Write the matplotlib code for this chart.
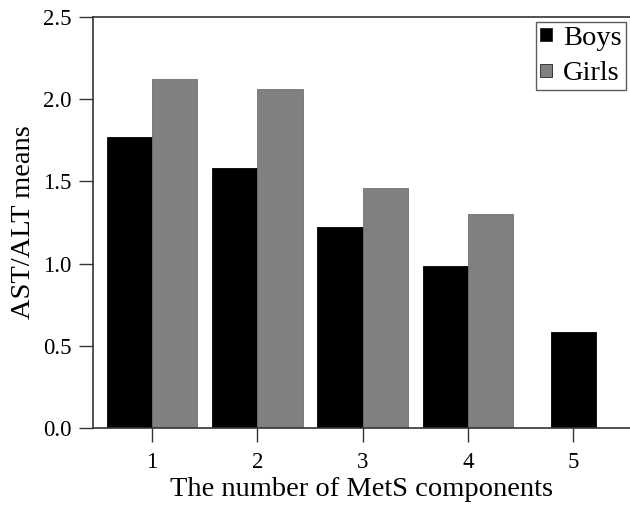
import matplotlib
matplotlib.use("Agg")
import matplotlib.pyplot as plt
import numpy as np

components = [1, 2, 3, 4, 5]
boys = [1.77, 1.58, 1.22, 0.985, 0.586]
girls = [2.12, 2.06, 1.46, 1.30, None]

plt.rcParams['font.family'] = ['Liberation Serif', 'DejaVu Serif']

fig = plt.figure(figsize=(6.3, 5.08), dpi=100)
ax = fig.add_axes([92.7/630, 1 - 428/508, (630 - 92.7)/630, (428 - 17)/508])

w = 0.43
for i, c in enumerate(components):
    if girls[i] is None:
        ax.bar(c, boys[i], width=w, color='black', edgecolor='black', linewidth=0.6,
               label='Boys' if i == 0 else None)
    else:
        ax.bar(c - w/2, boys[i], width=w, color='black', edgecolor='black', linewidth=0.6,
               label='Boys' if i == 0 else None)
        ax.bar(c + w/2, girls[i], width=w, color='#808080', edgecolor='#707070', linewidth=0.6,
               label='Girls' if i == 0 else None)

ax.set_xlim(0.437, 5.54)
ax.set_ylim(0, 2.5)
ax.set_xticks(components)
ax.set_yticks([0.0, 0.5, 1.0, 1.5, 2.0, 2.5])
ax.set_yticklabels(['0.0', '0.5', '1.0', '1.5', '2.0', '2.5'])
ax.tick_params(axis='both', direction='out', length=10, width=1, color='#333333',
               labelsize=16.5)
ax.tick_params(axis='y', pad=5)
ax.tick_params(axis='x', pad=7)
for s in ['left', 'top', 'bottom']:
    ax.spines[s].set_color('#333333')
    ax.spines[s].set_linewidth(1.2)
ax.spines['right'].set_visible(False)

ax.set_xlabel('The number of MetS components', fontsize=20.5, labelpad=3)
ax.set_ylabel('AST/ALT means', fontsize=20.5, labelpad=5)

leg = ax.legend(loc='upper right', bbox_to_anchor=(0.998, 0.997), fontsize=20.5,
                frameon=True, fancybox=False, edgecolor='#333333',
                handlelength=0.4, handleheight=0.35, handletextpad=0.4,
                borderpad=0.14, labelspacing=0.38, borderaxespad=0.12)
leg.get_frame().set_linewidth(1.0)
for h in leg.legend_handles:
    h.set_edgecolor('#222222')

fig.savefig('out.png', dpi=100)
